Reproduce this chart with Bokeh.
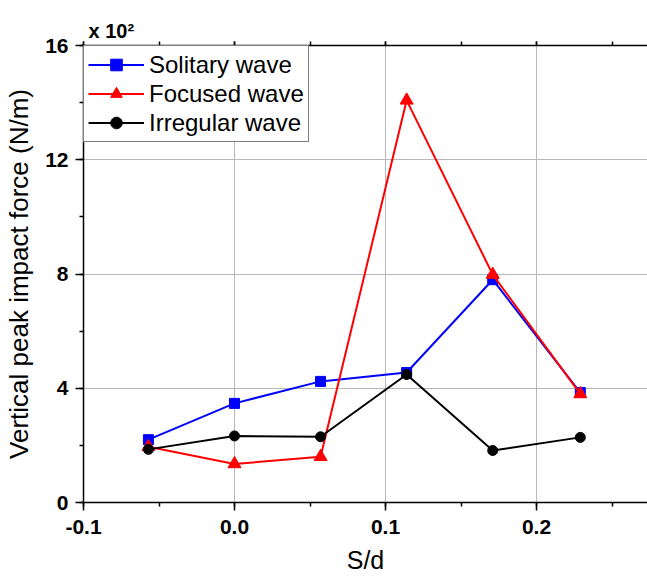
from bokeh.plotting import figure
from bokeh.models import (Range1d, LinearAxis, SingleIntervalTicker, PrintfTickFormatter,
                          Grid, CustomLabelingPolicy)
from bokeh.embed import file_html
from bokeh.resources import INLINE

# ---- data ----
sd = [-0.057, 0.0, 0.057, 0.114, 0.171, 0.229]
solitary = [2.2, 3.47, 4.24, 4.55, 7.8, 3.85]
focused = [1.95, 1.35, 1.6, 14.08, 7.98, 3.8]
irregular = [1.86, 2.33, 2.3, 4.48, 1.82, 2.28]

FONT = "Liberation Sans"
X0, X1, Y0, Y1 = -0.1, 0.2735, 0, 16

p = figure(width=647, height=579, output_backend="svg", toolbar_location=None,
           x_range=Range1d(X0, X1), y_range=Range1d(Y0, Y1),
           x_axis_type=None, y_axis_type=None,
           min_border_left=83, min_border_top=45, min_border_bottom=77, min_border_right=0)
p.outline_line_color = None
p.background_fill_color = "white"

# axis multiplier shown as the title at the top-left corner
p.title.text = "x 10\u00b2"
p.title.align = "left"
p.title.offset = 5
p.title.standoff = 0
p.title.text_font = FONT
p.title.text_font_style = "bold"
p.title.text_font_size = "20px"
p.title.text_color = "black"

xt = SingleIntervalTicker(interval=0.1, num_minor_ticks=2)
yt = SingleIntervalTicker(interval=4, num_minor_ticks=2)

def style(ax):
    ax.axis_line_color = "black"
    ax.axis_line_width = 1.5
    ax.major_tick_line_color = "black"
    ax.minor_tick_line_color = "black"
    ax.major_tick_line_width = 1.5
    ax.minor_tick_line_width = 1.5
    ax.major_tick_out = 8
    ax.major_tick_in = 0
    ax.minor_tick_out = 4
    ax.minor_tick_in = 0
    ax.major_label_text_font = FONT
    ax.major_label_text_font_style = "bold"
    ax.major_label_text_font_size = "21px"
    ax.major_label_text_color = "black"
    ax.axis_label_text_font = FONT
    ax.axis_label_text_font_style = "normal"
    ax.axis_label_text_font_size = "25px"
    ax.axis_label_text_color = "black"

xax = LinearAxis(ticker=xt, formatter=PrintfTickFormatter(format="%.1f"), axis_label="S/d")
style(xax)
xax.major_label_standoff = 9
xax.axis_label_standoff = 9
p.add_layout(xax, "below")

yax = LinearAxis(ticker=yt, axis_label="Vertical peak impact force (N/m)")
style(yax)
yax.axis_label_text_font_size = "26px"
yax.major_label_standoff = 7
yax.axis_label_standoff = 8
p.add_layout(yax, "left")

top = LinearAxis(ticker=xt)
style(top)
top.major_tick_out = 4
top.minor_tick_out = 4
top.major_label_text_font_size = "0px"
top.major_label_standoff = 0
top.major_label_policy = CustomLabelingPolicy(code="""
try {
  const s = indices.clone();
  for (const i of indices) s.unset(i);
  return s;
} catch (e) {
  return indices;
}
""")
p.add_layout(top, "above")

p.add_layout(Grid(dimension=0, ticker=xt, grid_line_color="#b8b8b8", grid_line_width=1))
p.add_layout(Grid(dimension=1, ticker=yt, grid_line_color="#b8b8b8", grid_line_width=1))

# series
p.line(sd, solitary, line_color="#0000ff", line_width=2, legend_label="Solitary wave")
p.scatter(sd, solitary, marker="square", size=10, fill_color="#0000ff", line_color="#0000ff",
          legend_label="Solitary wave")
p.line(sd, focused, line_color="#ff0000", line_width=2, legend_label="Focused wave")
p.scatter(sd, focused, marker="triangle", size=13, fill_color="#ff0000", line_color="#ff0000",
          legend_label="Focused wave")
p.line(sd, irregular, line_color="black", line_width=2, legend_label="Irregular wave")
p.scatter(sd, irregular, marker="circle", size=10, fill_color="black", line_color="black",
          legend_label="Irregular wave")

lg = p.legend[0]
lg.location = "top_left"
lg.margin = 0
lg.padding = 4
lg.spacing = 0
lg.glyph_width = 56
lg.glyph_height = 29
lg.label_height = 29
lg.label_width = 155
lg.label_standoff = 5
lg.label_text_font = FONT
lg.label_text_font_size = "24px"
lg.label_text_color = "black"
lg.border_line_color = "black"
lg.border_line_width = 1
lg.background_fill_alpha = 1

open("out.html", "w").write(file_html(p, INLINE))
